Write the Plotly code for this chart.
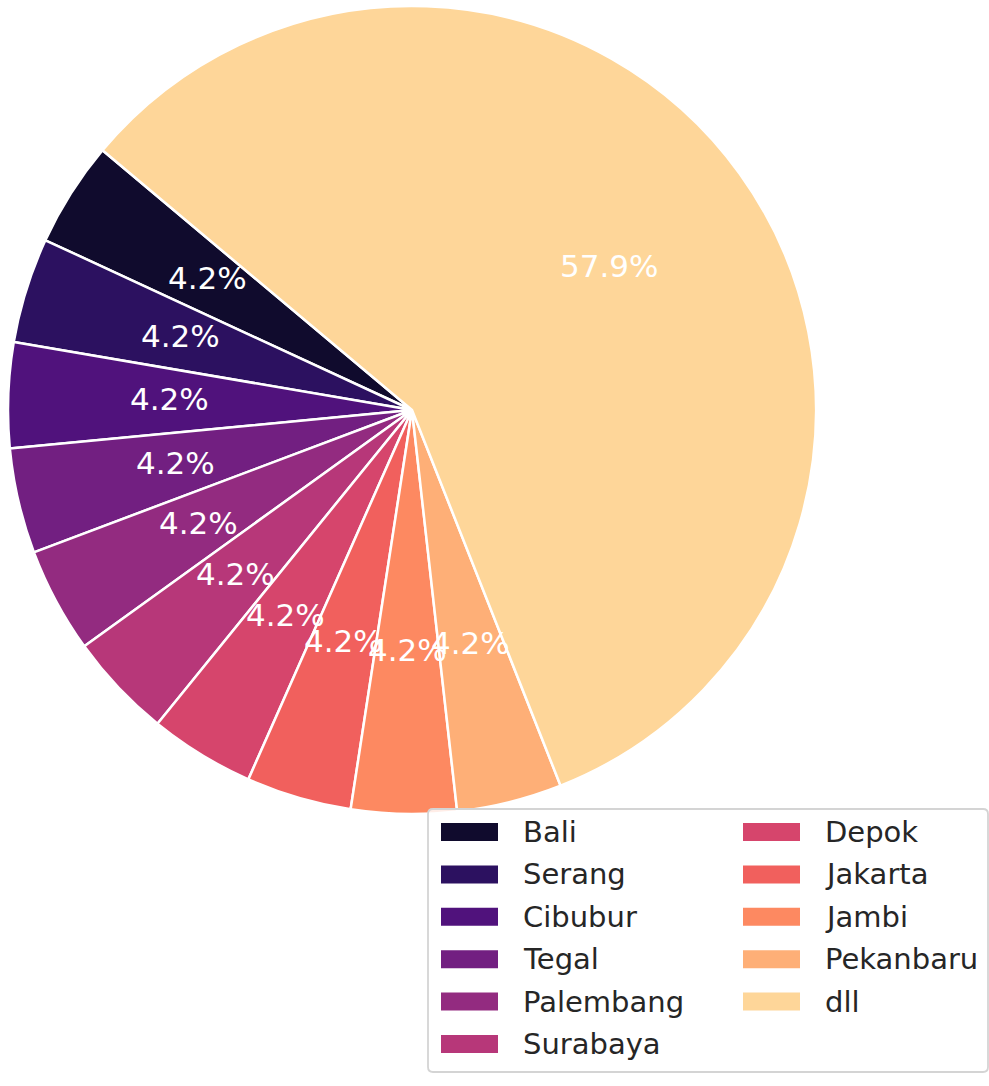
import math
import plotly.graph_objects as go

# data
cities = ['Bali', 'Serang', 'Cibubur', 'Tegal', 'Palembang', 'Surabaya',
          'Depok', 'Jakarta', 'Jambi', 'Pekanbaru', 'dll']
counts = [4, 4, 4, 4, 4, 4, 4, 4, 4, 4, 55]
colors = ['#100b2d', '#2c1160', '#50127c', '#721f81', '#932b80', '#b73779',
          '#d6456c', '#f1605d', '#fd8961', '#feaf77', '#fed699']

W, H = 989, 1086
# pie placement in pixels
cx, cy, R = 412, 410, 404
start_angle = 140  # degrees, counterclockwise from 3 o'clock


def px(x):
    return x / W


def py(y):
    return 1 - y / H


total = sum(counts)
first_sweep = counts[0] / total * 360

fig = go.Figure()
fig.add_trace(go.Pie(
    labels=cities,
    values=counts,
    sort=False,
    direction='counterclockwise',
    # plotly puts the first slice clockwise of the rotation angle when counterclockwise
    rotation=90 - start_angle - first_sweep,
    marker=dict(colors=colors, line=dict(color='white', width=2.5)),
    textinfo='none',
    hoverinfo='label+percent',
    showlegend=False,
    domain=dict(x=[px(cx - R), px(cx + R)], y=[py(cy + R), py(cy - R)]),
))

# percentage labels at 0.6 of radius, like autopct
ang = start_angle
annotations = []
for c, v in zip(cities, counts):
    sweep = v / total * 360
    mid = math.radians(ang + sweep / 2)
    ang += sweep
    annotations.append(dict(
        x=px(cx + 0.6 * R * math.cos(mid)), y=py(cy - 0.6 * R * math.sin(mid) - 2),
        xref='paper', yref='paper', showarrow=False,
        text=f'{v / total * 100:.1f}%',
        font=dict(family='DejaVu Sans', size=31, color='white'),
        xanchor='center', yanchor='middle',
    ))

# legend box (two columns, column-major like matplotlib ncol=2)
shapes = []
lx0, ly0, lx1, ly1, rr = 428, 809, 988, 1072, 5
path = (f'M {px(lx0 + rr)},{py(ly0)} L {px(lx1 - rr)},{py(ly0)} '
        f'Q {px(lx1)},{py(ly0)} {px(lx1)},{py(ly0 + rr)} '
        f'L {px(lx1)},{py(ly1 - rr)} Q {px(lx1)},{py(ly1)} {px(lx1 - rr)},{py(ly1)} '
        f'L {px(lx0 + rr)},{py(ly1)} Q {px(lx0)},{py(ly1)} {px(lx0)},{py(ly1 - rr)} '
        f'L {px(lx0)},{py(ly0 + rr)} Q {px(lx0)},{py(ly0)} {px(lx0 + rr)},{py(ly0)} Z')
shapes.append(dict(type='path', path=path, xref='paper', yref='paper',
                   fillcolor='rgba(255,255,255,0.85)', line=dict(color='#d4d4d4', width=1.8)))

rows = 6
col_x = [441, 743]
row_y0, row_dy = 832, 42.4
for i, (c, col) in enumerate(zip(cities, colors)):
    ci, ri = divmod(i, rows)
    sx = col_x[ci]
    sy = row_y0 + ri * row_dy
    shapes.append(dict(type='rect', xref='paper', yref='paper',
                       x0=px(sx), x1=px(sx + 57), y0=py(sy - 9), y1=py(sy + 9),
                       fillcolor=col, line=dict(width=0)))
    annotations.append(dict(
        x=px(sx + 80), y=py(sy), xref='paper', yref='paper', showarrow=False,
        text=c, font=dict(family='DejaVu Sans', size=29, color='#262626'),
        xanchor='left', yanchor='middle',
    ))

fig.update_layout(
    width=W, height=H,
    margin=dict(l=0, r=0, t=0, b=0),
    paper_bgcolor='white', plot_bgcolor='white',
    shapes=shapes,
    annotations=annotations,
)

# drop the browser's default body margin so the figure sits at the page corner
fig.write_html('out.html', config={'displayModeBar': False},
               post_script="document.body.style.margin='0px';")
